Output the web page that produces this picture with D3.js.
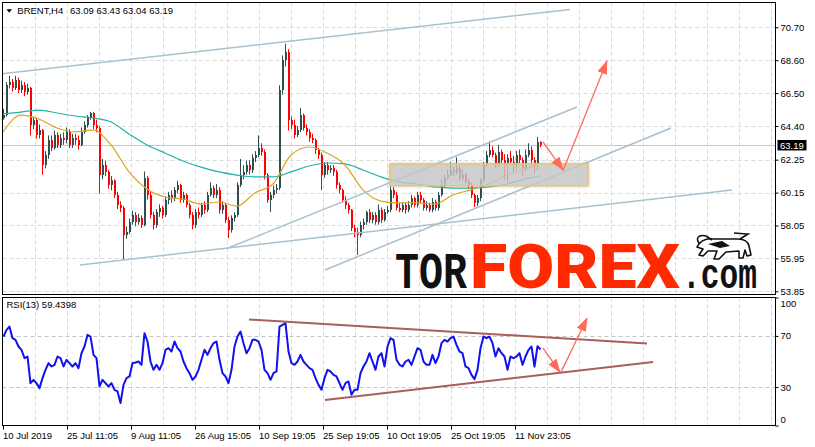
<!DOCTYPE html>
<html><head><meta charset="utf-8">
<script src="https://cdn.jsdelivr.net/npm/d3@7/dist/d3.min.js"></script>
<style>body{margin:0;background:#fff}svg{display:block}</style>
</head><body>
<script>
// ---------- data (H4 BRENT, each bar here = 3 H4 bars) ----------
const symbol = "BRENT,H4";
const headerValues = "63.09 63.43 63.04 63.19";
const firstOpen = 64.9;
const closes = [65.10,67.02,67.21,66.83,67.34,66.70,67.02,66.57,66.83,64.46,
64.78,63.83,64.15,61.91,62.55,63.51,63.00,63.83,63.19,63.63,
63.51,64.02,63.19,63.63,63.51,63.19,64.02,64.46,64.91,65.23,
64.46,64.27,61.27,61.91,61.47,60.64,60.93,60.00,59.36,59.17,
57.44,57.64,58.27,58.72,58.27,58.53,58.08,61.08,60.00,58.72,
58.08,58.91,59.17,58.72,59.68,60.00,59.80,60.32,60.64,59.68,
60.00,59.36,58.72,58.08,58.91,58.72,59.36,59.04,60.00,60.44,
60.00,60.32,59.04,59.36,58.40,57.76,58.53,58.72,60.64,61.27,
61.47,61.91,61.59,62.36,62.55,63.00,62.74,61.27,59.68,60.00,
60.32,60.44,66.70,68.61,69.12,64.78,64.46,63.83,64.15,65.10,
64.27,64.02,63.63,63.51,62.87,62.55,61.27,61.91,61.59,61.72,
61.47,60.64,60.32,59.68,59.36,59.04,57.89,57.64,57.44,58.08,
58.27,58.91,58.40,58.72,58.27,59.04,58.40,58.91,59.04,60.32,
60.00,59.17,59.04,59.36,59.04,59.36,59.80,59.36,60.00,59.68,
59.17,59.36,59.04,59.55,59.17,60.00,60.64,61.08,61.27,61.59,
61.47,61.72,61.08,61.27,60.83,60.64,60.00,59.49,59.80,60.93,
61.91,62.55,62.87,62.55,61.91,62.74,62.23,61.91,62.36,62.10,
61.91,62.55,62.23,61.72,62.55,62.87,62.23,61.91,63.38,63.19];
const highs = [65.5,67.2,67.6,67.4,67.6,67.5,67.3,67.2,67.1,66.9,
65.0,64.9,64.5,64.2,62.8,63.8,63.8,64.1,64.0,63.9,
64.0,64.3,64.2,63.9,63.9,63.8,64.3,64.7,65.1,65.3,
65.3,64.8,64.4,62.3,62.2,61.6,61.2,61.0,60.2,59.6,
59.3,58.0,58.5,59.0,58.9,58.8,58.7,61.5,61.2,60.2,
58.9,59.1,59.4,59.3,59.9,60.2,60.3,60.5,60.9,60.7,
60.2,60.1,59.5,58.9,59.1,59.2,59.5,59.6,60.2,60.8,
60.6,60.7,60.5,59.6,59.5,58.6,58.7,58.9,60.8,62.3,
61.9,62.2,62.2,62.6,62.8,63.8,63.3,62.9,61.4,60.2,
60.6,60.7,67.0,68.9,69.65,69.3,65.0,64.8,64.4,65.55,
65.2,64.5,64.2,63.9,63.6,63.0,62.7,62.1,62.1,61.9,
61.9,61.6,60.8,60.4,59.9,59.5,59.1,58.1,57.9,58.3,
58.5,59.0,59.1,58.9,58.9,59.4,59.2,59.1,59.3,60.6,
60.5,60.2,59.5,59.5,59.5,59.6,60.0,59.9,60.2,60.2,
59.8,59.6,59.5,59.8,59.7,60.2,61.0,61.3,61.6,62.1,
61.8,62.4,61.9,61.6,61.4,61.0,60.8,60.1,60.0,61.1,
62.1,62.8,63.4,63.1,62.7,63.2,62.9,62.6,62.6,62.8,
62.5,62.8,62.9,62.4,62.9,63.3,63.1,62.4,63.7,63.43];
const lows = [64.8,65.0,66.8,66.6,66.7,66.5,66.5,66.3,66.4,63.8,
64.2,63.6,63.6,61.3,61.7,62.3,62.8,62.9,63.0,63.0,
63.2,63.3,63.0,63.0,63.2,62.9,63.1,63.9,64.3,64.8,
64.2,64.0,60.1,61.0,61.2,60.4,60.3,59.8,59.1,58.9,
55.85,57.2,57.5,58.1,58.0,58.1,57.9,58.0,59.7,58.5,
57.8,57.9,58.6,58.5,58.6,59.4,59.5,59.6,60.1,59.5,
59.5,59.2,58.5,57.8,57.9,58.5,58.6,58.8,58.9,59.9,
59.8,59.8,58.8,58.8,58.2,57.25,57.6,58.3,58.6,60.5,
61.0,61.3,61.3,61.4,62.1,62.4,62.5,61.0,59.5,58.9,
59.8,60.1,60.3,66.4,68.2,64.1,64.2,63.6,63.7,64.0,
64.1,63.8,63.4,63.3,62.6,62.3,60.3,61.1,61.3,61.4,
61.2,60.4,60.1,59.5,59.1,58.8,57.7,57.3,56.17,57.3,
57.8,58.1,58.2,58.2,58.1,58.1,58.2,58.3,58.8,58.9,
59.8,59.0,58.9,58.9,58.8,58.9,59.2,59.2,59.2,59.5,
59.0,59.0,58.9,58.9,59.0,59.0,59.9,60.5,61.0,61.2,
61.2,61.3,60.9,60.9,60.7,60.4,59.8,59.23,59.3,59.6,
60.8,61.8,62.4,62.4,61.7,61.8,62.0,61.0,60.8,61.9,
61.4,61.6,62.0,61.2,61.5,62.4,61.9,61.4,61.6,63.04];
const rsiValues = [69.5,74.7,77.2,68.2,66.9,61.7,59.1,52.6,53.9,33.1,
35.7,33.1,29.2,37.0,43.5,48.7,46.1,47.4,53.9,52.6,
46.1,51.3,48.7,46.1,48.7,44.8,56.5,61.7,70.8,69.5,
55.2,52.6,30.5,35.7,33.1,30.5,33.1,27.9,26.6,17.5,
31.8,37.0,38.3,48.7,49.2,50.0,47.4,72.1,65.6,50.0,
43.5,47.4,43.5,48.7,59.1,60.4,57.8,65.6,60.4,57.8,
50.0,44.8,40.9,35.7,38.3,43.5,51.3,59.1,55.2,60.4,
64.3,65.6,51.3,40.9,38.3,33.1,43.5,61.7,69.5,73.4,
64.3,56.5,60.4,66.9,66.9,65.6,59.1,43.5,40.9,35.7,
40.9,42.2,77.2,78.6,79.9,57.8,48.7,47.4,50.0,55.2,
50.0,47.4,44.8,43.5,37.0,31.8,27.9,37.0,43.5,42.2,
39.6,38.3,33.1,27.9,33.1,34.4,24.0,27.9,27.9,40.9,
46.1,50.0,56.5,50.0,43.5,53.9,56.5,46.1,61.7,68.2,
66.9,51.3,47.4,46.1,50.0,51.3,47.4,53.9,60.4,59.1,
50.0,47.4,47.4,55.2,48.7,53.9,64.3,66.9,65.6,68.2,
69.5,63.0,57.8,56.5,46.1,44.8,39.6,36.2,43.5,60.4,
69.5,68.2,69.5,64.3,53.9,60.4,56.5,53.9,43.5,53.9,
52.6,53.9,56.5,47.4,53.9,59.1,61.7,46.0,62.0,59.4];
const rsiLabel = "RSI(13) 59.4398";
// moving averages, sampled every 6 bars (+ last bar)
const maFast = [64.02,65.10,64.85,64.27,64.02,64.15,63.19,61.47,60.38,59.87,59.74,59.42,59.55,59.29,60.13,60.70,62.55,63.06,62.68,61.91,60.32,59.61,59.49,59.49,59.42,60.00,60.32,60.70,61.27,61.66,61.98];
const maSlow = [65.17,65.29,65.42,65.23,65.04,64.91,64.66,63.89,63.19,62.68,62.17,61.78,61.47,61.27,61.15,61.15,61.47,61.85,62.04,61.98,61.59,61.15,60.83,60.70,60.51,60.44,60.44,60.51,60.70,61.02,61.21];
const lastPrice = 63.19;
const priceTicks = [70.70,68.60,66.50,64.40,62.25,60.15,58.05,55.95,53.85];
const priceLabels = ["70.70","68.60","66.50","64.40","62.25","60.15","58.05","55.95","53.85"];
const rsiTicks = [100,70,30,0];
const rsiGrid = [70,30];
const timeTicks = [0,64,128,192,256,320,384,448,512]; // in H4 bars
const timeLabels = ["10 Jul 2019","25 Jul 11:05","9 Aug 11:05","26 Aug 15:05","10 Sep 19:05","25 Sep 19:05","10 Oct 19:05","25 Oct 19:05","11 Nov 23:05"];
// drawing objects (H4 bar index, price)
const trendLines = [[-3,67.72,567,71.84],[77,55.53,729,60.32],[225,56.61,574,65.61],[322,55.21,668,64.27]];
const zoneBox = [387,61.98,585,60.59];
const priceArrows = [[540,63.38,560,61.59],[560,61.55,604,68.55]];
const rsiLines = [[246,82.8,644,64.1],[322,19.9,650,49.7]];
const rsiArrows = [[540,60.4,557,41.7],[558,41.7,584,83.8]];
const logoParts = ["TOR", "FOREX", ".com"];

// ---------- layout ----------
const W = 815, H = 447;
const L = 2.5, R = 775.5, mT = 2.5, mB = 294.5, rT = 297.5, rB = 425.5;
const FONT = "'Liberation Sans', Arial, sans-serif";
const BAR = 3;

const x = d3.scaleLinear().domain([0, 773]).range([3, 776]);
const y = d3.scaleLinear().domain([53.85, 70.70]).range([291.3, 27.3]);
const yr = d3.scaleLinear().domain([0, 100]).range([rB, rT]);

const svg = d3.select("body").append("svg").attr("width", W).attr("height", H)
  .style("font-family", FONT);
svg.append("rect").attr("width", W).attr("height", H).attr("fill", "#fff");

const defs = svg.append("defs");
defs.append("clipPath").attr("id", "cm").append("rect").attr("x", L).attr("y", mT).attr("width", R - L).attr("height", mB - mT);
defs.append("clipPath").attr("id", "cr").append("rect").attr("x", L).attr("y", rT).attr("width", R - L).attr("height", rB - rT);
const mk = defs.append("marker").attr("id", "ah").attr("viewBox", "0 0 14 10")
  .attr("markerUnits", "userSpaceOnUse").attr("markerWidth", 14).attr("markerHeight", 10)
  .attr("refX", 13).attr("refY", 5).attr("orient", "auto");
mk.append("path").attr("d", "M0,0L14,5L0,10Z").attr("fill", "#ff6b5b");
const flt = defs.append("filter").attr("id", "sh").attr("x", "-5%").attr("y", "-20%").attr("width", "110%").attr("height", "140%");
flt.append("feDropShadow").attr("dx", 0).attr("dy", 0).attr("stdDeviation", 1.5).attr("flood-color", "#888").attr("flood-opacity", 0.5);

const gridX = d3.range(32, 773, 32);
const GRID = "#dadada";

// ---------- main panel ----------
const gm = svg.append("g").attr("clip-path", "url(#cm)");
gm.selectAll(".vg").data(gridX).join("line")
  .attr("x1", d => Math.round(x(d)) + 0.5).attr("x2", d => Math.round(x(d)) + 0.5)
  .attr("y1", mT).attr("y2", mB).attr("stroke", GRID).attr("stroke-dasharray", "4,3");
gm.selectAll(".hg").data(priceTicks).join("line")
  .attr("x1", L).attr("x2", R).attr("y1", d => Math.round(y(d)) + 0.5).attr("y2", d => Math.round(y(d)) + 0.5)
  .attr("stroke", GRID).attr("stroke-dasharray", "4,3");
gm.append("line").attr("x1", L).attr("x2", R)
  .attr("y1", Math.round(y(lastPrice)) + 0.5).attr("y2", Math.round(y(lastPrice)) + 0.5)
  .attr("stroke", "#c8c8c8");

// watermark logo (behind the price bars' drawing objects, like the reference)
const lg = svg.append("g");
lg.append("text").attr("transform", "translate(395,288) scale(1,1.3)")
  .attr("font-family", "'Liberation Mono', monospace").attr("font-weight", "bold")
  .attr("font-size", 40).attr("textLength", 72).attr("lengthAdjust", "spacingAndGlyphs")
  .attr("fill", "#111").text(logoParts[0]);
lg.append("text").attr("x", 470).attr("y", 288)
  .attr("font-family", "Roboto, Lato, 'Liberation Sans', sans-serif")
  .attr("font-weight", 900).attr("font-size", 62).attr("textLength", 210).attr("lengthAdjust", "spacingAndGlyphs")
  .attr("fill", "#ff2a00").text(logoParts[1]);
lg.append("text").attr("transform", "translate(682,288) scale(1,1.4)")
  .attr("font-family", "'Liberation Mono', monospace").attr("font-weight", "bold")
  .attr("font-size", 31).attr("textLength", 75).attr("lengthAdjust", "spacingAndGlyphs")
  .attr("fill", "#111").text(logoParts[2]);
lg.append("path").attr("d", "M697,247C700,241 706,238 714,239L738,239C744,239 748,242 749,246L751,255L747,256L745,250L743,258L739,258L739,251L726,252L719,259L714,259L717,251L708,251L703,256L699,255L703,249Z")
  .attr("fill", "#fff").attr("stroke", "#111").attr("stroke-width", 1.6).attr("stroke-linejoin", "round");
lg.append("path").attr("d", "M700,244C695,239 698,234 706,236M706,236L712,240M740,239L748,234L734,233")
  .attr("fill", "none").attr("stroke", "#111").attr("stroke-width", 1.6);
lg.append("path").attr("d", "M708,244L722,241L730,246L720,248Z").attr("fill", "#111");

const gm2 = svg.append("g").attr("clip-path", "url(#cm)");
const bars = closes.map((c, k) => ({ k, o: k === 0 ? firstOpen : closes[k - 1], c, h: highs[k], l: lows[k] }));
const colorOf = d => d.c >= d.o ? "#2f4f4f" : "#ff0000";
const cg = gm2.append("g");
cg.selectAll("line").data(bars).join("line")
  .attr("x1", d => Math.round(x(d.k * BAR)) + 0.5).attr("x2", d => Math.round(x(d.k * BAR)) + 0.5)
  .attr("y1", d => y(d.h)).attr("y2", d => y(d.l)).attr("stroke", colorOf);
cg.selectAll("rect").data(bars).join("rect")
  .attr("x", d => Math.round(x(d.k * BAR)))
  .attr("width", 2)
  .attr("y", d => y(Math.max(d.o, d.c)))
  .attr("height", d => Math.max(1, Math.abs(y(d.o) - y(d.c))))
  .attr("fill", colorOf);

const maIdx = d3.range(0, 180, 6).concat([179]);
const maLine = d3.line().x((d, i) => x(maIdx[i] * BAR)).y(d => y(d)).curve(d3.curveMonotoneX);
gm2.append("path").attr("d", maLine(maSlow)).attr("fill", "none").attr("stroke", "#20b2aa").attr("stroke-width", 1.2);
gm2.append("path").attr("d", maLine(maFast)).attr("fill", "none").attr("stroke", "#daa520").attr("stroke-width", 1.2);

gm2.selectAll(".tl").data(trendLines).join("line")
  .attr("x1", d => x(d[0])).attr("y1", d => y(d[1])).attr("x2", d => x(d[2])).attr("y2", d => y(d[3]))
  .attr("stroke", "#a9c0cf").attr("stroke-width", 1.5);

gm2.append("rect").attr("x", x(zoneBox[0])).attr("y", y(zoneBox[1]))
  .attr("width", x(zoneBox[2]) - x(zoneBox[0])).attr("height", y(zoneBox[3]) - y(zoneBox[1]))
  .attr("fill", "#cccccc").attr("fill-opacity", 0.72)
  .attr("stroke", "#eec46a").attr("stroke-width", 1.5).attr("filter", "url(#sh)");

gm2.selectAll(".pa").data(priceArrows).join("line")
  .attr("x1", d => x(d[0])).attr("y1", d => y(d[1])).attr("x2", d => x(d[2])).attr("y2", d => y(d[3]))
  .attr("stroke", "#ff6b5b").attr("stroke-width", 1.3).attr("marker-end", "url(#ah)");

// ---------- RSI panel ----------
const gr = svg.append("g").attr("clip-path", "url(#cr)");
gr.selectAll(".vg").data(gridX).join("line")
  .attr("x1", d => Math.round(x(d)) + 0.5).attr("x2", d => Math.round(x(d)) + 0.5)
  .attr("y1", rT).attr("y2", rB).attr("stroke", GRID).attr("stroke-dasharray", "4,3");
gr.selectAll(".hg").data(rsiGrid).join("line")
  .attr("x1", L).attr("x2", R).attr("y1", d => Math.round(yr(d)) + 0.5).attr("y2", d => Math.round(yr(d)) + 0.5)
  .attr("stroke", "#c4c4c4").attr("stroke-dasharray", "4,3");
gr.append("path").datum(rsiValues)
  .attr("d", d3.line().x((d, i) => x(i * BAR) + 0.5).y(d => yr(d)))
  .attr("fill", "none").attr("stroke", "#1010f0").attr("stroke-width", 2).attr("stroke-linejoin", "round");
gr.selectAll(".rl").data(rsiLines).join("line")
  .attr("x1", d => x(d[0])).attr("y1", d => yr(d[1])).attr("x2", d => x(d[2])).attr("y2", d => yr(d[3]))
  .attr("stroke", "#a85f5c").attr("stroke-width", 2);
gr.selectAll(".ra").data(rsiArrows).join("line")
  .attr("x1", d => x(d[0])).attr("y1", d => yr(d[1])).attr("x2", d => x(d[2])).attr("y2", d => yr(d[3]))
  .attr("stroke", "#ff6b5b").attr("stroke-width", 1.3).attr("marker-end", "url(#ah)");

// ---------- frames ----------
[[mT, mB], [rT, rB]].forEach(([t, b]) => {
  svg.append("rect").attr("x", L).attr("y", t).attr("width", R - L).attr("height", b - t)
    .attr("fill", "none").attr("stroke", "#000");
});

// ---------- axes ----------
function styleAxis(g) {
  g.select(".domain").remove();
  g.selectAll("text").attr("font-size", "9.5px").attr("font-family", FONT).attr("fill", "#000");
  g.selectAll("line").attr("stroke", "#000");
}
svg.append("g").attr("transform", `translate(${R},0)`)
  .call(d3.axisRight(y).tickValues(priceTicks).tickFormat((d, i) => priceLabels[i]).tickSize(3).tickPadding(2))
  .call(styleAxis);
const ra = svg.append("g").attr("transform", `translate(${R},0)`)
  .call(d3.axisRight(yr).tickValues(rsiTicks).tickFormat(d3.format("d")).tickSize(3).tickPadding(2))
  .call(styleAxis);
ra.selectAll(".tick text").attr("y", d => d === 100 ? 6 : d === 0 ? -6 : 0);
svg.append("g").attr("transform", `translate(0,${rB})`)
  .call(d3.axisBottom(x).tickValues(timeTicks).tickFormat((d, i) => timeLabels[i]).tickSize(4).tickPadding(3))
  .call(styleAxis)
  .call(g => g.selectAll("text").attr("text-anchor", "start").attr("x", -0.5));

// current price tag
const py = y(lastPrice);
svg.append("rect").attr("x", 777.5).attr("y", py - 5).attr("width", 29).attr("height", 10.5).attr("fill", "#000");
svg.append("text").attr("x", 780).attr("y", py + 3.6).attr("font-size", "9.5px").attr("fill", "#fff").text(lastPrice.toFixed(2));

// ---------- header texts ----------
svg.append("path").attr("d", "M6.5,9.2L12,9.2L9.25,12.8Z").attr("fill", "#000");
svg.append("text").attr("x", 17.3).attr("y", 14).attr("font-size", "9.5px").text(symbol);
svg.append("text").attr("x", 70).attr("y", 14).attr("font-size", "9.5px").text(headerValues);
svg.append("text").attr("x", 6.5).attr("y", 308).attr("font-size", "9.5px").text(rsiLabel);
</script>
</body></html>
